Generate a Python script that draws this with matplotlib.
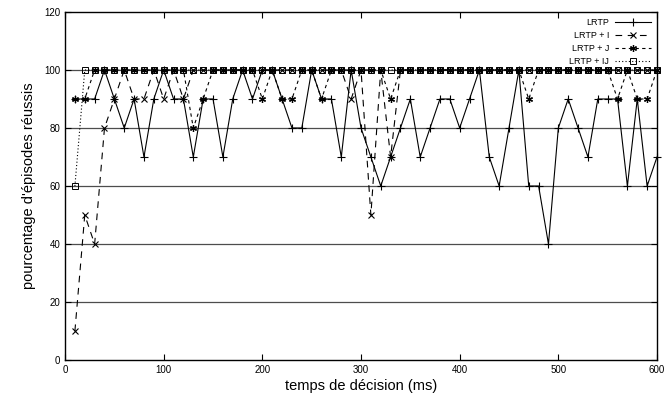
import numpy as np
import matplotlib
matplotlib.use("Agg")
import matplotlib.pyplot as plt

plt.rcParams['font.family'] = ['Liberation Sans', 'DejaVu Sans']

# temps de décision (ms)
temps = list(range(10, 601, 10))

lrtp = [90, 90, 90, 100, 90, 80, 90, 70, 90, 100,
        90, 90, 70, 90, 90, 70, 90, 100, 90, 100,
        100, 90, 80, 80, 100, 90, 90, 70, 100, 80,
        70, 60, 70, 80, 90, 70, 80, 90, 90, 80,
        90, 100, 70, 60, 80, 100, 60, 60, 40, 80,
        90, 80, 70, 90, 90, 90, 60, 90, 60, 70]

lrtp_i = [10, 50, 40, 80, 90, 100, 90, 90, 100, 90,
          100, 90, 100, 100, 100, 100, 100, 100, 100, 100,
          100, 100, 100, 100, 100, 100, 100, 100, 90, 100,
          50, 100, 70, 100, 100, 100, 100, 100, 100, 100,
          100, 100, 100, 100, 100, 100, 100, 100, 100, 100,
          100, 100, 100, 100, 100, 100, 100, 100, 100, 100]

lrtp_j = [90, 90, 100, 100, 100, 100, 100, 100, 100, 100,
          100, 100, 80, 90, 100, 100, 100, 100, 100, 90,
          100, 90, 90, 100, 100, 90, 100, 100, 100, 100,
          100, 100, 90, 100, 100, 100, 100, 100, 100, 100,
          100, 100, 100, 100, 100, 100, 90, 100, 100, 100,
          100, 100, 100, 100, 100, 90, 100, 90, 90, 100]

lrtp_ij = [60] + [100] * 59

fig = plt.figure(figsize=(6.67, 4.12), dpi=100)
ax = fig.add_axes([0.0975, 0.126, 0.8875, 0.845])

for yg in [20, 40, 60, 80, 100]:
    ax.axhline(yg, color='0.3', lw=0.9, zorder=0)

ax.plot(temps, lrtp, color='black', lw=0.8, marker='+', ms=6, mew=0.8,
        label='LRTP', clip_on=False)
ax.plot(temps, lrtp_i, color='black', lw=0.8, ls=(0, (6, 5)), marker='x', ms=4.5,
        mew=0.8, label='LRTP + I', clip_on=False)
ax.plot(temps, lrtp_j, color='black', lw=0.8, ls=(0, (3, 3)), marker=(6, 2, 0),
        ms=5, mew=0.9, label='LRTP + J', clip_on=False)
ax.plot(temps, lrtp_ij, color='black', lw=0.8, ls=(0, (1, 2)), marker='s', ms=5,
        mew=0.7, mfc='none', label='LRTP + IJ', clip_on=False)

ax.set_xlim(0, 600)
ax.set_ylim(0, 120)
ax.set_xticks(range(0, 601, 100))
ax.set_yticks(range(0, 121, 20))
ax.tick_params(direction='in', top=True, right=True, labelsize=7, length=4, width=0.8)
for s in ax.spines.values():
    s.set_linewidth(1.0)

ax.set_xlabel('temps de décision (ms)', fontsize=10.5, labelpad=3)
ax.set_ylabel("pourcentage d'épisodes réussis", fontsize=10.5, labelpad=6)

ax.legend(loc='upper right', frameon=False, markerfirst=False, fontsize=6.5,
          handlelength=4, labelspacing=0.45, borderaxespad=0.3, handletextpad=0.6)

fig.savefig('out.png', dpi=100)
